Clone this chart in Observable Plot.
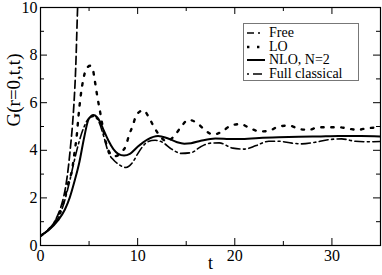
<!DOCTYPE html>
<html>
<head>
<meta charset="utf-8">
<script src="https://cdn.jsdelivr.net/npm/d3@7"></script>
<script src="https://cdn.jsdelivr.net/npm/@observablehq/plot@0.6"></script>
<style>
  body { margin: 0; background: #fff; }
  #wrap { position: relative; width: 382px; height: 275px; }
  #legend { position: absolute; left: 243px; top: 23px; width: 114px; height: 56px;
    border: 1px solid #777; background: #fff; font-family: "Liberation Serif", "Times New Roman", "DejaVu Serif", serif; font-size: 14px; font-weight: normal; }
  .row { position: absolute; left: 0; height: 13px; line-height: 13px; white-space: nowrap; }
  .row svg { position: absolute; left: 2px; top: 0; }
  .row span { position: absolute; left: 25px; top: 0; }
  svg text { font-family: "Liberation Serif", "Times New Roman", "DejaVu Serif", serif; font-weight: normal; }
</style>
</head>
<body>
<div id="wrap"></div>
<script>
// Free (dashed)
const freeT = [0, 0.5, 1, 1.33, 1.7, 2, 2.3, 2.56, 2.9, 3.1, 3.3, 3.45, 3.6, 3.82, 4.0];
const freeG = [0.4, 0.55, 0.75, 0.92, 1.2, 1.5, 1.9, 2.4, 3.4, 4.2, 5.1, 6.0, 7.2, 10, 12];
// LO (dotted)
const loT = [0, 0.5, 1, 1.5, 2, 2.5, 2.9, 3.24, 3.5, 3.75, 3.9, 4.1, 4.4, 4.7, 5.1, 5.35, 5.6, 5.86, 6.1, 6.4, 6.75, 7.2, 7.6, 8.0, 8.4, 8.8, 9.1, 9.5, 9.8, 10.2, 10.6, 11.2, 11.7, 12.3, 13.0, 13.8, 14.5, 15.2, 16.1, 16.9, 17.8, 18.7, 19.6, 20.6, 21.5, 22.6, 23.6, 24.5, 25.6, 26.6, 27.6, 28.6, 29.7, 30.7, 31.8, 32.7, 33.8, 35];
const loG = [0.4, 0.55, 0.75, 1.0, 1.4, 2.0, 2.7, 3.15, 3.9, 4.69, 5.39, 6.16, 6.97, 7.4, 7.55, 7.45, 6.9, 6.23, 5.7, 5.0, 4.3, 3.85, 3.75, 3.8, 3.95, 4.2, 4.62, 5.04, 5.42, 5.62, 5.68, 5.35, 4.97, 4.6, 4.38, 4.62, 5.0, 5.28, 5.15, 4.86, 4.66, 4.79, 5.04, 5.1, 4.94, 4.79, 4.83, 5.0, 5.04, 4.9, 4.86, 4.97, 4.97, 4.97, 4.9, 4.86, 4.94, 4.95];
// NLO, N=2 (solid)
const nloT = [0, 0.8, 1.8, 2.5, 3.0, 3.5, 4.0, 4.5, 4.95, 5.45, 5.8, 6.1, 6.5, 7.0, 7.5, 8.0, 8.6, 9.2, 10, 11, 12.1, 13, 14, 14.8, 15.5, 16.5, 18, 19.4, 20.5, 22.5, 24.5, 26.6, 28.5, 30.7, 33, 35];
const nloG = [0.42, 0.63, 1.05, 1.5, 2.0, 2.7, 3.5, 4.55, 5.3, 5.48, 5.4, 5.22, 4.85, 4.4, 4.05, 3.85, 3.78, 3.85, 4.15, 4.45, 4.6, 4.52, 4.35, 4.28, 4.3, 4.4, 4.5, 4.48, 4.47, 4.52, 4.55, 4.57, 4.58, 4.6, 4.6, 4.58];
// Full classical (dash-dot)
const clT = [0, 0.8, 1.5, 2.0, 2.5, 3.0, 3.5, 4.0, 4.5, 5.0, 5.5, 6.0, 6.5, 7.0, 7.5, 8.0, 8.8, 9.5, 10, 10.5, 11, 11.8, 12.5, 13.5, 14.5, 15.5, 16.5, 17.5, 18.4, 19.8, 21, 22.2, 23.5, 24.5, 25.9, 26.9, 28.3, 29.7, 31, 32.4, 33.7, 35];
const clG = [0.4, 0.65, 0.95, 1.3, 1.9, 2.7, 3.6, 4.4, 5.0, 5.35, 5.42, 5.2, 4.6, 3.9, 3.6, 3.42, 3.28, 3.5, 3.85, 4.15, 4.35, 4.42, 4.35, 4.05, 3.87, 3.9, 4.15, 4.3, 4.31, 4.09, 4.05, 4.2, 4.38, 4.38, 4.3, 4.27, 4.34, 4.45, 4.48, 4.38, 4.36, 4.37];

const xMajor = [0, 10, 20, 30];
const xMinor = [5, 15, 25, 35];
const yMajor = [0, 2, 4, 6, 8, 10];
const yMinor = [1, 3, 5, 7, 9];

const series = [
  {name: "Free", t: freeT, g: freeG, dash: "8,4", width: 1.7},
  {name: "LO", t: loT, g: loG, dash: "2.4,7.6", width: 2.4},
  {name: "NLO, N=2", t: nloT, g: nloG, dash: null, width: 2},
  {name: "Full classical", t: clT, g: clG, dash: "9,3.5,2,3.5", width: 1.6}
];

const W = 382, H = 275, mL = 40, mR = 2, mT = 7, mB = 30;
const fw = W - mL - mR, fh = H - mT - mB;
const FONT = "'Liberation Serif', 'Times New Roman', 'DejaVu Serif', serif";

const marks = [];
for (const s of series) {
  const data = s.t.map((t, i) => ({t, g: s.g[i]}));
  marks.push(Plot.line(data, {x: "t", y: "g", curve: "monotone-x", stroke: "#000",
    strokeWidth: s.width, strokeDasharray: s.dash, clip: true}));
}
// ticks (inward, all four sides)
marks.push(Plot.tickX(xMajor, {x: d => d, insetTop: fh - 7, stroke: "#000"}));
marks.push(Plot.tickX(xMinor, {x: d => d, insetTop: fh - 4, stroke: "#000"}));
marks.push(Plot.tickX(xMajor, {x: d => d, insetBottom: fh - 7, stroke: "#000"}));
marks.push(Plot.tickX(xMinor, {x: d => d, insetBottom: fh - 4, stroke: "#000"}));
marks.push(Plot.tickY(yMajor, {y: d => d, insetRight: fw - 7, stroke: "#000"}));
marks.push(Plot.tickY(yMinor, {y: d => d, insetRight: fw - 4, stroke: "#000"}));
marks.push(Plot.tickY(yMajor, {y: d => d, insetLeft: fw - 7, stroke: "#000"}));
marks.push(Plot.tickY(yMinor, {y: d => d, insetLeft: fw - 4, stroke: "#000"}));
marks.push(Plot.frame({stroke: "#000", strokeWidth: 1.2}));
marks.push(Plot.axisX({ticks: xMajor, tickSize: 0, tickPadding: 4, fontSize: 16, label: null, fontFamily: FONT}));
marks.push(Plot.axisY({ticks: yMajor, tickSize: 0, tickPadding: 3, fontSize: 16, label: null, fontFamily: FONT}));
marks.push(Plot.text(["t"], {text: d => d, frameAnchor: "bottom", dy: 23, fontSize: 18, fontFamily: FONT}));
marks.push(Plot.text(["G(r=0,t,t)"], {text: d => d, frameAnchor: "left", rotate: -90, dx: -27, fontSize: 19, fontFamily: FONT}));

const chart = Plot.plot({
  width: W, height: H,
  marginLeft: mL, marginRight: mR, marginTop: mT, marginBottom: mB,
  x: {domain: [0, 35]},
  y: {domain: [0, 10]},
  style: {fontFamily: FONT, color: "#000", background: "#fff"},
  marks
});
const wrap = document.getElementById("wrap");
wrap.appendChild(chart);

// legend
const leg = document.createElement("div");
leg.id = "legend";
series.forEach((s, i) => {
  const row = document.createElement("div");
  row.className = "row";
  row.style.top = (2 + i * 13.5) + "px";
  const ns = "http://www.w3.org/2000/svg";
  const svg = document.createElementNS(ns, "svg");
  svg.setAttribute("width", 20); svg.setAttribute("height", 13);
  const ln = document.createElementNS(ns, "line");
  ln.setAttribute("x1", 1); ln.setAttribute("x2", 19);
  ln.setAttribute("y1", 7); ln.setAttribute("y2", 7);
  ln.setAttribute("stroke", "#000");
  ln.setAttribute("stroke-width", s.width);
  if (s.dash) ln.setAttribute("stroke-dasharray", s.name === "Free" ? "7,4,2,8" : s.name === "Full classical" ? "2,4,9,4" : s.dash);
  svg.appendChild(ln);
  const sp = document.createElement("span");
  sp.textContent = s.name;
  row.appendChild(svg); row.appendChild(sp);
  leg.appendChild(row);
});
wrap.appendChild(leg);
</script>
</body>
</html>
